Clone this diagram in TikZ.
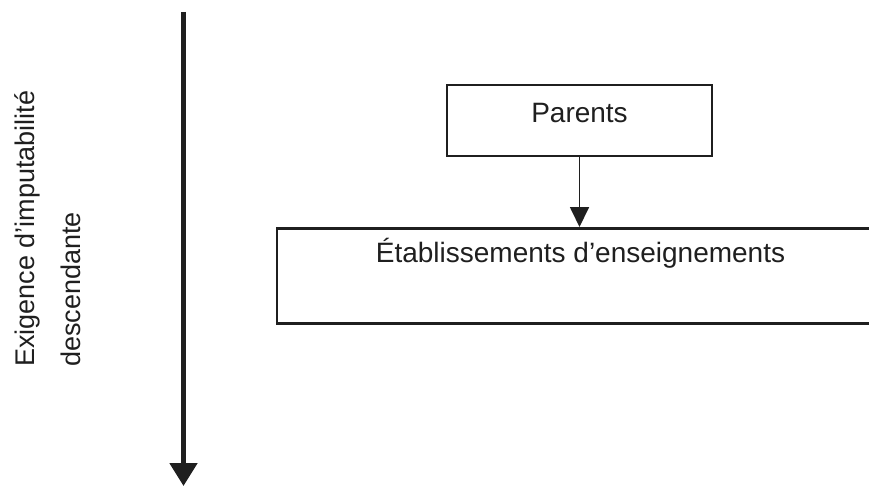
\documentclass[tikz,border=0pt]{standalone}
\usepackage{fontspec}
\setmainfont{Liberation Sans}
\usetikzlibrary{arrows.meta}
\begin{document}
\begin{tikzpicture}[x=1pt,y=-1pt,
  txt/.style={font=\fontsize{28}{34}\selectfont, text=black!88, inner sep=0pt},
  sidetxt/.style={font=\fontsize{27}{33}\selectfont, text=black!88, inner sep=0pt, rotate=90, anchor=base west},
  boxed/.style={draw=black!88, inner sep=0pt, align=center},
  bigarrow/.style={line width=5pt, draw=black!88, -{Triangle[width=27pt,length=23pt]}},
  smallarrow/.style={line width=1.8pt, draw=black!88, -{Triangle[width=19pt,length=20pt]}}]
\useasboundingbox (0,0) rectangle (869,489);
\fill[white] (0,0) rectangle (869,489);
% big vertical arrow
\coordinate (atop) at (183.5,12);
\coordinate (abot) at (183.5,486);
\draw[bigarrow] (atop) -- (abot);
% left rotated text
\node[sidetxt] (lab1) at (34,367) {Exigence d’imputabilité};
\node[sidetxt] (lab2) at (80,367) {descendante};
% boxes
\node[boxed, txt, line width=2pt, minimum width=265pt, text height=37.7pt, text depth=33.3pt] (parents) at (579.5,84) [anchor=north] {Parents};
\node[boxed, txt, line width=2.8pt, minimum width=607pt, text height=34pt, text depth=61pt] (etab) at (580.5,227) [anchor=north] {Établissements d’enseignements};
\draw[smallarrow] (parents.south) -- (parents.south |- etab.north);
\end{tikzpicture}
\end{document}
